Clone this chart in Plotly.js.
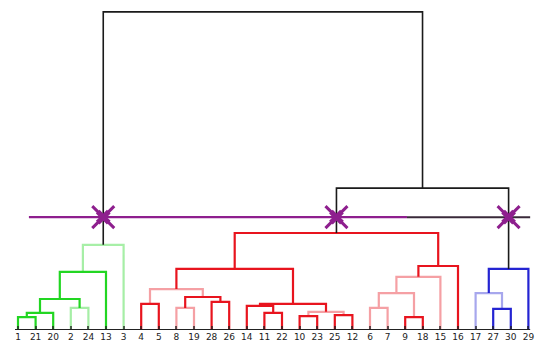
<!DOCTYPE html>
<html>
<head>
<meta charset="utf-8">
<script src="https://cdn.plot.ly/plotly-3.0.1.min.js"></script>
<style>html,body{margin:0;padding:0;background:#fff;}#chart{width:536px;height:352px;}</style>
</head>
<body>
<div id="chart"></div>
<script>
// Leaf labels in dendrogram order (left to right)
const leafLabels = ['1','21','20','2','24','13','3','4','5','8','19','28','26','14','11','22','10','23','25','12','6','7','9','18','15','16','17','27','30','29'];
// Linkage: merge k creates node id 30+k from mergeLeft[k] and mergeRight[k] at mergeHeight[k]
const mergeLeft   = [0,30,3,31,33,34,7,9,11,37,36,14,13,16,18,43,42,40,20,22,48,50,51,47,27,26,55,53,35];
const mergeRight  = [1,2,4,32,5,6,8,10,12,38,39,15,41,17,19,44,45,46,21,23,49,24,25,52,28,54,29,56,57];
const mergeHeight = [3.9,5.2,6.7,9.4,17.6,25.8,7.9,6.7,8.5,10.0,12.4,5.2,7.3,4.2,4.5,5.5,7.9,18.5,6.7,3.9,11.2,16.1,19.4,29.4,6.4,11.2,18.5,43.0,96.4];
const cutHeight = 34.2;

// styles
const clusterColors = ['#22d622', '#e8141e', '#2424d2'];
const aboveColor = '#1a1a1a';
const fadedLinks = [32,35,37,40,45,48,50,51,55];
const cutColor = '#8e1f8e';

const nLeaf = leafLabels.length;
const nodeX = [], nodeH = [];
for (let i = 0; i < nLeaf; i++) { nodeX.push(i); nodeH.push(0); }
const parent = {};
mergeLeft.forEach((a, k) => {
  const b = mergeRight[k];
  const id = nLeaf + k;
  nodeX[id] = (nodeX[a] + nodeX[b]) / 2;
  nodeH[id] = mergeHeight[k];
  parent[a] = id; parent[b] = id;
});
// cluster roots: merges below cut whose parent is at/above cut
const clusterRoots = [];
for (let k = 0; k < mergeLeft.length; k++) {
  const id = nLeaf + k;
  const p = parent[id];
  if (nodeH[id] < cutHeight && p !== undefined && nodeH[p] >= cutHeight) clusterRoots.push(id);
}
clusterRoots.sort((a, b) => nodeX[a] - nodeX[b]);
function clusterOf(id) {
  let cur = id;
  while (cur !== undefined) {
    const ci = clusterRoots.indexOf(cur);
    if (ci >= 0) return ci;
    cur = parent[cur];
  }
  return -1;
}

const groups = {};
mergeLeft.forEach((a, k) => {
  const b = mergeRight[k];
  const id = nLeaf + k;
  const ci = nodeH[id] < cutHeight ? clusterOf(id) : -1;
  const color = ci >= 0 ? clusterColors[ci] : aboveColor;
  const faded = fadedLinks.includes(id);
  const key = color + (faded ? '_f' : '');
  if (!groups[key]) groups[key] = {x: [], y: [], color, faded};
  const g = groups[key];
  g.x.push(nodeX[a], nodeX[a], nodeX[b], nodeX[b], null);
  g.y.push(nodeH[a], nodeH[id], nodeH[id], nodeH[b], null);
});

const traces = [];
Object.values(groups).forEach(g => {
  traces.push({
    type: 'scatter', mode: 'lines', x: g.x, y: g.y, hoverinfo: 'skip',
    line: {color: g.color, width: g.color === aboveColor ? 1.6 : 2.2},
    opacity: g.faded ? 0.4 : 1, showlegend: false
  });
});

// baseline
traces.push({type:'scatter', mode:'lines', x:[-0.17, nLeaf - 0.9], y:[0,0], line:{color:'#222', width:2}, hoverinfo:'skip', showlegend:false});

// cut line
const cutSplit = 22.1;
traces.push({type:'scatter', mode:'lines', x:[0.62, cutSplit], y:[cutHeight, cutHeight], line:{color:cutColor, width:2.2}, hoverinfo:'skip', showlegend:false});
traces.push({type:'scatter', mode:'lines', x:[cutSplit, nLeaf - 0.9], y:[cutHeight, cutHeight], line:{color:'#3a2a3a', width:2}, hoverinfo:'skip', showlegend:false});

// cut markers at cluster roots
const mx = clusterRoots.map(id => nodeX[id]);
const my = clusterRoots.map(() => cutHeight);
traces.push({type:'scatter', mode:'markers', x:mx, y:my, marker:{symbol:'x-thin-open', size:22, color:cutColor, line:{color:cutColor, width:3}}, hoverinfo:'skip', showlegend:false});
traces.push({type:'scatter', mode:'markers', x:mx, y:my, marker:{symbol:'x', size:13, color:cutColor, line:{width:0}}, hoverinfo:'skip', showlegend:false});

const pxPerLeaf = 17.6;
const x0 = -18 / pxPerLeaf;
const layout = {
  width: 536, height: 352,
  margin: {l: 0, r: 0, t: 0, b: 22, pad: 0},
  paper_bgcolor: '#fff', plot_bgcolor: '#fff',
  xaxis: {
    range: [x0, x0 + 536 / pxPerLeaf],
    tickvals: leafLabels.map((_, i) => i), ticktext: leafLabels,
    ticks: 'inside', ticklen: 4, tickwidth: 2, tickcolor: 'rgba(30,30,30,0.7)',
    showgrid: false, zeroline: false, showline: false,
    tickfont: {family: 'DejaVu Sans', size: 9, color: '#222'},
    fixedrange: true
  },
  yaxis: {range: [0, 100], visible: false, fixedrange: true},
  showlegend: false
};
Plotly.newPlot('chart', traces, layout, {staticPlot: true, displayModeBar: false});
</script>
</body>
</html>
